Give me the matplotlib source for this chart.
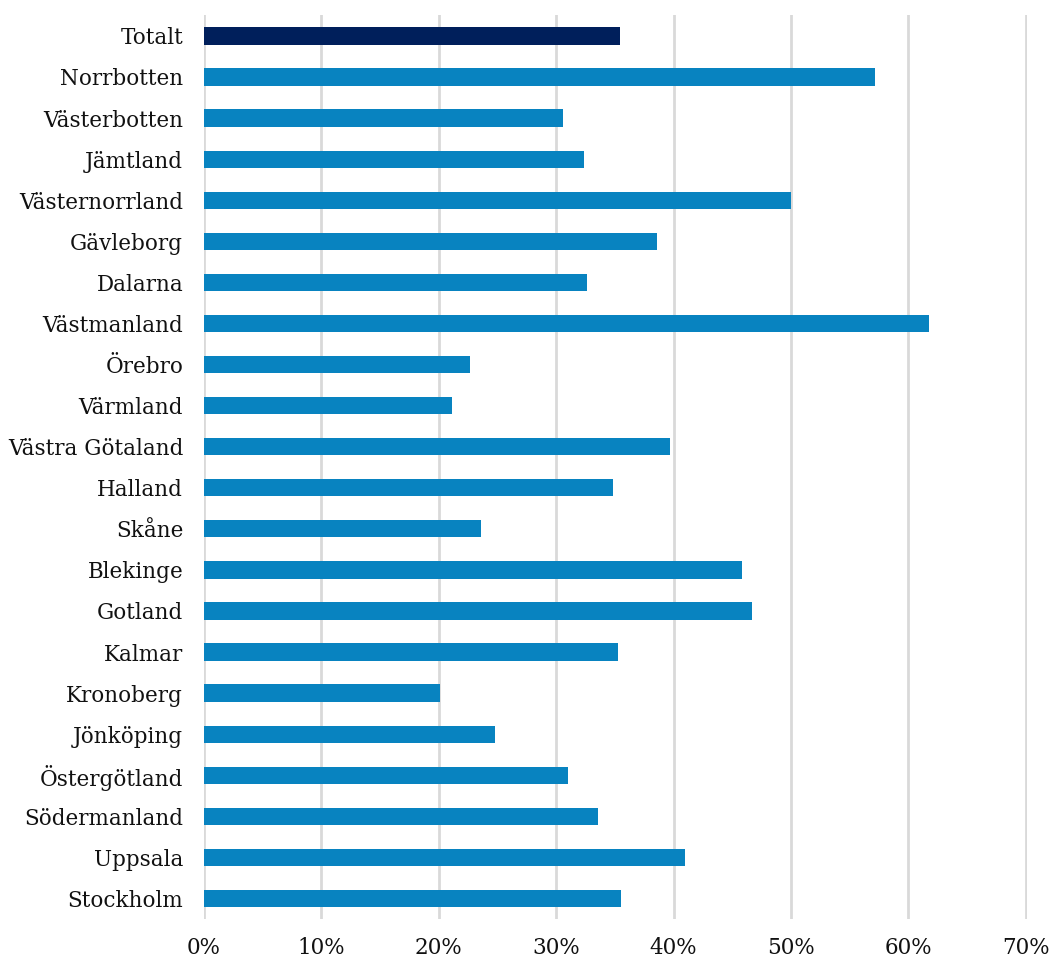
import numpy as np
import matplotlib.pyplot as plt
from matplotlib.ticker import FuncFormatter

lan = ["Totalt", "Norrbotten", "Västerbotten", "Jämtland", "Västernorrland",
       "Gävleborg", "Dalarna", "Västmanland", "Örebro", "Värmland",
       "Västra Götaland", "Halland", "Skåne", "Blekinge", "Gotland",
       "Kalmar", "Kronoberg", "Jönköping", "Östergötland", "Södermanland",
       "Uppsala", "Stockholm"]
andel = [0.354, 0.572, 0.306, 0.324, 0.500, 0.386, 0.326, 0.618, 0.227,
         0.211, 0.397, 0.348, 0.236, 0.458, 0.467, 0.353, 0.201, 0.248,
         0.310, 0.336, 0.410, 0.355]

plt.rcParams['font.family'] = ['DejaVu Serif']

fig = plt.figure(figsize=(10.5, 9.61), dpi=100)
ax = fig.add_axes([0.1943, 0.0437, 0.7837, 0.9403])

y = np.arange(len(lan))
colors = ["#001f5b"] + ["#0883c0"] * (len(lan) - 1)
ax.barh(y, andel, height=0.42, color=colors, zorder=3)

ax.set_ylim(len(lan) - 0.5, -0.5)
ax.set_xlim(0, 0.701)
ax.set_xticks(np.arange(0, 0.71, 0.1))
ax.xaxis.set_major_formatter(FuncFormatter(lambda v, p: f"{v*100:.0f}%"))
ax.set_yticks(y)
ax.set_yticklabels(lan)
ax.grid(axis="x", color="#d9d9d9", linewidth=2, zorder=0)
for s in ax.spines.values():
    s.set_visible(False)
ax.tick_params(axis="both", length=0, labelsize=15.5, colors="#111111")
ax.tick_params(axis="y", pad=15)
ax.tick_params(axis="x", pad=13)

fig.savefig("out.png", dpi=100)
